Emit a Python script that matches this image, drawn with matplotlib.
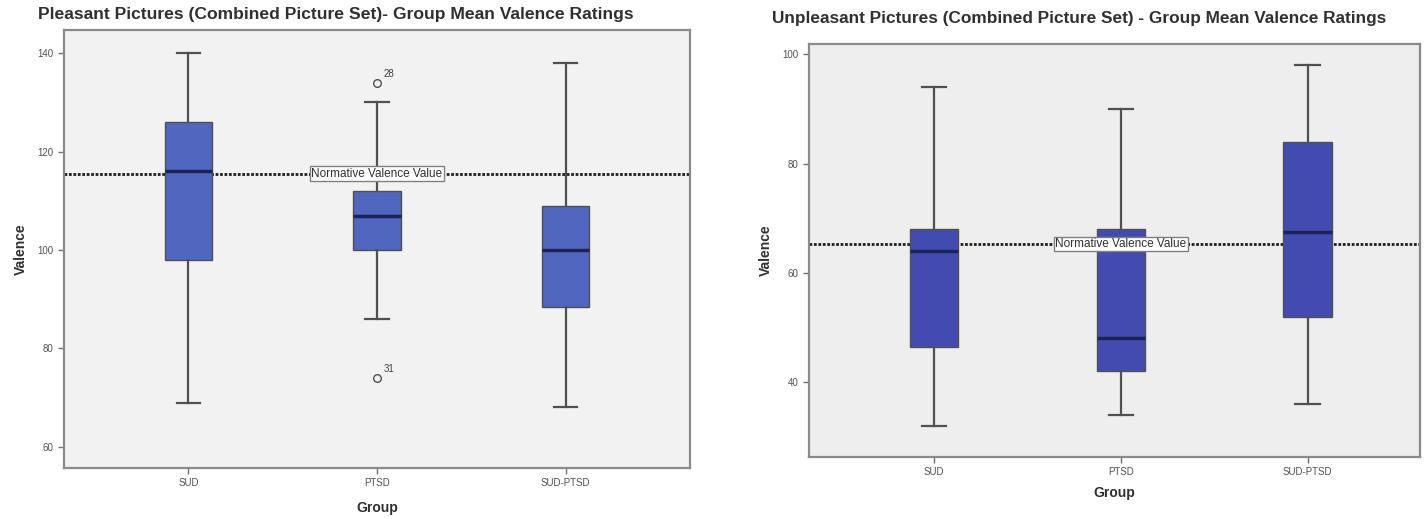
import matplotlib
matplotlib.use("Agg")
import matplotlib.pyplot as plt

plt.rcParams['font.family'] = ['Liberation Sans', 'DejaVu Sans']

groups = ["SUD", "PTSD", "SUD-PTSD"]

# Pleasant pictures: whisker low, Q1, median, Q3, whisker high
pl_whislo = [69, 86, 68]
pl_q1 = [98, 100, 88.5]
pl_med = [116, 107, 100]
pl_q3 = [126, 112, 109]
pl_whishi = [140, 130, 138]
pl_fliers = [[], [134, 74], []]
pl_flier_ids = [[], ["28", "31"], []]
pl_norm = 115.5

# Unpleasant pictures
un_whislo = [32, 34, 36]
un_q1 = [46.5, 42, 52]
un_med = [64, 48, 67.5]
un_q3 = [68, 68, 84]
un_whishi = [94, 90, 98]
un_fliers = [[], [], []]
un_flier_ids = [[], [], []]
un_norm = 65.3

pl_yticks = [60, 80, 100, 120, 140]
un_yticks = [40, 60, 80, 100]

fig = plt.figure(figsize=(14.24, 5.19), dpi=100)
ax1 = fig.add_axes([0.0449, 0.0983, 0.4397, 0.8437])
ax2 = fig.add_axes([0.568, 0.1195, 0.429, 0.7955])


def draw(ax, whislo, q1, med, q3, whishi, fliers, ids, norm, yticks, ylim,
         xlim, facecolor, boxcolor, width, glabel_pad):
    stats = []
    for i, g in enumerate(groups):
        stats.append(dict(label=g, whislo=whislo[i], q1=q1[i], med=med[i],
                          q3=q3[i], whishi=whishi[i], fliers=fliers[i]))
    ax.set_facecolor(facecolor)
    ax.bxp(stats, positions=[1, 2, 3], widths=width, patch_artist=True,
           showfliers=True, capwidths=width / 2,
           boxprops=dict(facecolor=boxcolor, edgecolor="#505050", linewidth=1.0),
           medianprops=dict(color="#1b2458", linewidth=2.5),
           whiskerprops=dict(color="#505050", linewidth=1.6),
           capprops=dict(color="#505050", linewidth=1.6),
           flierprops=dict(marker="o", markerfacecolor="none",
                           markeredgecolor="#505050", markersize=5.5,
                           markeredgewidth=1.0))
    for i in range(3):
        for v, lab in zip(fliers[i], ids[i]):
            ax.annotate(lab, (i + 1, v), xytext=(5, 4), textcoords="offset points",
                        fontsize=7, color="#404040")
    ax.axhline(norm, color="#202020", linestyle=(0, (1, 0.6)), linewidth=2.0,
               zorder=1.5)
    ax.text(2, norm, "Normative Valence Value", ha="center", va="center",
            fontsize=8.5, color="#303030", zorder=5,
            bbox=dict(boxstyle="square,pad=0.12", facecolor="white",
                      edgecolor="#808080", linewidth=1.0))
    ax.set_xlim(*xlim)
    ax.set_ylim(*ylim)
    ax.set_yticks(yticks)
    ax.set_yticklabels([str(t) for t in yticks], fontsize=7, color="#505050")
    ax.set_xticks([1, 2, 3])
    ax.set_xticklabels(groups, fontsize=7, color="#505050")
    ax.tick_params(direction="out", length=4, color="#707070", width=1)
    for s in ax.spines.values():
        s.set_color("#8a8a8a")
        s.set_linewidth(1.6)
    ax.set_ylabel("Valence", fontsize=10, fontweight="bold", color="#303030",
                  labelpad=7)
    ax.set_xlabel("Group", fontsize=10, fontweight="bold", color="#303030",
                  labelpad=glabel_pad)


draw(ax1, pl_whislo, pl_q1, pl_med, pl_q3, pl_whishi, pl_fliers, pl_flier_ids,
     pl_norm, pl_yticks, (55.7, 144.7), (0.34, 3.66), "#f2f2f2", "#5066bf",
     0.25, 9)
draw(ax2, un_whislo, un_q1, un_med, un_q3, un_whishi, un_fliers, un_flier_ids,
     un_norm, un_yticks, (26.3, 101.9), (0.33, 3.6), "#eeeeee", "#434bb0",
     0.26, 6)

fig.text(38 / 1424, 1 - 14 / 519,
         "Pleasant Pictures (Combined Picture Set)- Group Mean Valence Ratings",
         fontsize=12.6, fontweight="bold", color="#303030", va="center", ha="left")
fig.text(772 / 1424, 1 - 18 / 519,
         "Unpleasant Pictures (Combined Picture Set) - Group Mean Valence Ratings",
         fontsize=12.4, fontweight="bold", color="#303030", va="center", ha="left")

fig.savefig("out.png", dpi=100)
